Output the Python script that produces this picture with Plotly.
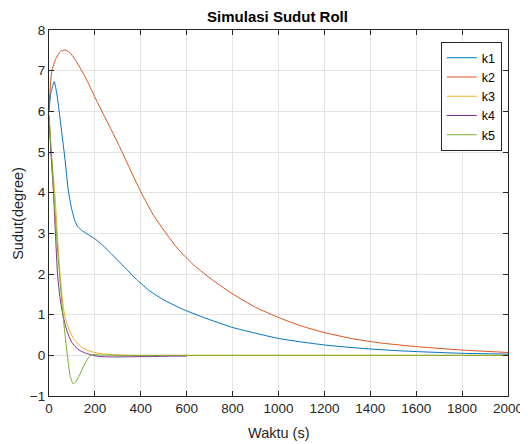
import plotly.graph_objects as go

# time (s) and angle (degree) samples
t_k1 = [0, 8, 23, 35, 48, 69, 84, 98, 112, 126, 141, 165, 199, 235, 271, 330, 386, 440, 501, 580, 674, 803, 1005, 1207, 1365, 1500, 1610, 1800, 2000]
y_k1 = [6.0, 6.45, 6.73, 6.4, 5.83, 4.85, 4.06, 3.62, 3.32, 3.16, 3.08, 2.99, 2.87, 2.70, 2.50, 2.16, 1.84, 1.58, 1.36, 1.14, 0.93, 0.68, 0.41, 0.25, 0.17, 0.12, 0.09, 0.05, 0.03]

t_k2 = [0, 12, 30, 50, 69, 90, 120, 160, 199, 235, 271, 310, 343, 400, 458, 558, 631, 720, 803, 900, 1005, 1100, 1207, 1322, 1450, 1610, 1800, 2000]
y_k2 = [6.1, 6.98, 7.3, 7.47, 7.51, 7.45, 7.22, 6.82, 6.36, 5.95, 5.55, 5.1, 4.7, 4.02, 3.42, 2.64, 2.22, 1.82, 1.50, 1.18, 0.92, 0.72, 0.55, 0.41, 0.30, 0.21, 0.13, 0.07]

t_k3 = [0, 10, 26, 37, 48, 58, 69, 90, 112, 145, 184, 230, 270, 350, 600, 1000, 2000]
y_k3 = [5.9, 5.0, 3.94, 2.9, 2.01, 1.4, 0.95, 0.6, 0.37, 0.19, 0.09, 0.04, 0.02, 0.0, 0.0, 0.0, 0.0]

t_k4 = [0, 8, 19, 28, 37, 48, 62, 80, 98, 125, 156, 199, 240, 271, 350, 450, 530, 600]
y_k4 = [5.9, 5.0, 4.06, 3.0, 2.01, 1.4, 0.95, 0.57, 0.33, 0.15, 0.06, -0.01, -0.035, -0.04, -0.035, -0.03, -0.02, -0.02]

t_k5 = [0, 10, 25, 40, 55, 68, 80, 92, 105, 115, 130, 145, 160, 177, 190, 220, 300, 600, 1000, 2000]
y_k5 = [5.9, 5.0, 3.6, 2.4, 1.35, 0.6, 0.0, -0.5, -0.70, -0.66, -0.52, -0.34, -0.17, -0.02, 0.02, 0.01, 0.0, 0.0, 0.0, 0.0]

names = ["k1", "k2", "k3", "k4", "k5"]
colors = ["#0072BD", "#D95319", "#EDB120", "#7E2F8E", "#77AC30"]
series = [(t_k1, y_k1), (t_k2, y_k2), (t_k3, y_k3), (t_k4, y_k4), (t_k5, y_k5)]

x_ticks = [0, 200, 400, 600, 800, 1000, 1200, 1400, 1600, 1800, 2000]
y_ticks = [-1, 0, 1, 2, 3, 4, 5, 6, 7, 8]

FONT = "Liberation Sans, Arial, Helvetica, sans-serif"

# the page body adds an 8px offset, so the figure is drawn 8px smaller
W, H = 520, 436
L, R, T, B = 40.5, 20, 21.6, 48.3
PW, PH = W - L - R, H - T - B

fig = go.Figure()
for name, color, (t, y) in zip(names, colors, series):
    fig.add_trace(go.Scatter(x=t, y=y, name=name, mode="lines",
                             line=dict(color=color, width=1, shape="spline", smoothing=0.5)))

axis_common = dict(showgrid=True, gridcolor="#e3e3e3", gridwidth=1, zeroline=False,
                   showline=True, linecolor="#262626", linewidth=1, mirror="ticks",
                   ticks="inside", ticklen=5, tickcolor="#262626", automargin=False,
                   tickfont=dict(family=FONT, size=13.5, color="#262626"))

fig.update_layout(
    width=W, height=H,
    margin=dict(l=L, r=R, t=T, b=B, pad=0),
    paper_bgcolor="white", plot_bgcolor="white",
    title=dict(text="<b>Simulasi Sudut Roll</b>", x=269.5 / W, xanchor="center",
               y=1 - 8.5 / H, yanchor="middle",
               font=dict(family=FONT, size=15, color="#000000")),
    xaxis=dict(range=[0, 2000], tickvals=x_ticks, **axis_common),
    yaxis=dict(range=[-1, 8], tickvals=y_ticks, **axis_common),
    legend=dict(x=(493.7 - L) / PW, xanchor="right", y=1 - (33.7 - T) / PH, yanchor="top",
                bgcolor="white", bordercolor="#262626", borderwidth=1,
                font=dict(family=FONT, size=12.5, color="#000000"),
                tracegroupgap=0),
    showlegend=True,
    annotations=[
        dict(text="Waktu (s)", xref="paper", yref="paper", x=0.5, y=-(424.3 - (H - B)) / PH,
             xanchor="center", yanchor="middle", showarrow=False,
             font=dict(family=FONT, size=14.5, color="#262626")),
        dict(text="Sudut(degree)", xref="paper", yref="paper", x=-(L - 9.3) / PW, y=0.5,
             xanchor="center", yanchor="middle", showarrow=False, textangle=-90,
             font=dict(family=FONT, size=14.5, color="#262626")),
    ],
)

fig.write_html("out.html")
